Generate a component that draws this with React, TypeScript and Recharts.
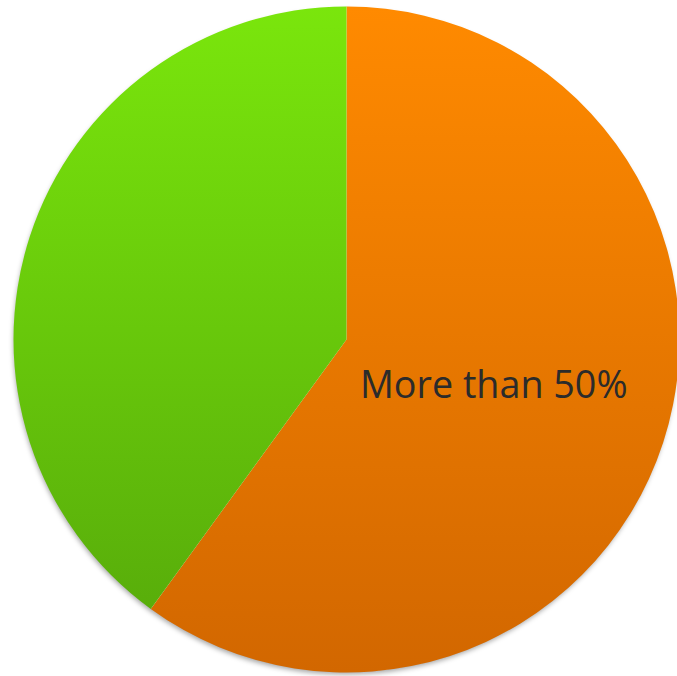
import React from 'react';
import { PieChart, Pie, Cell } from 'recharts';

const categories = ['More than 50%', 'Less than 50%'];
const values = [60, 40];
const labelled = ['More than 50%'];

const data = categories.map((name, i) => ({ name, value: values[i] }));
const backdrop = [{ name: 'all', value: 1 }];

const W = 677;
const H = 676;
const CX = 346.5;
const CY = 339.5;
const R = 333;

const fills = ['url(#gOrange)', 'url(#gGreen)'];

const renderLabel = (p: any) => {
  if (!labelled.includes(p.name)) return null;
  const RAD = Math.PI / 180;
  const r = p.outerRadius * 0.465;
  const x = p.cx + r * Math.cos(-p.midAngle * RAD);
  const y = p.cy + r * Math.sin(-p.midAngle * RAD) - 4;
  return (
    <text
      x={x}
      y={y}
      textAnchor="middle"
      dominantBaseline="central"
      fill="#2b2b2b"
      fontFamily="'Open Sans', sans-serif"
      fontSize={37.7}
    >
      {p.name}
    </text>
  );
};

export default function App() {
  return (
    <div style={{ position: 'absolute', left: 0, top: 0, width: W, height: H, background: '#fff' }}>
      <PieChart width={W} height={H} margin={{ top: 0, right: 0, bottom: 0, left: 0 }}>
        <defs>
          <linearGradient id="gOrange" gradientUnits="userSpaceOnUse" x1="0" y1={CY - R} x2="0" y2={CY + R}>
            <stop offset="0%" stopColor="#ff8a00" />
            <stop offset="100%" stopColor="#d26700" />
          </linearGradient>
          <linearGradient id="gGreen" gradientUnits="userSpaceOnUse" x1="0" y1={CY - R} x2="0" y2={CY + R}>
            <stop offset="0%" stopColor="#7ae60c" />
            <stop offset="100%" stopColor="#55a80a" />
          </linearGradient>
          <filter id="shadow" x="-10%" y="-10%" width="120%" height="120%">
            <feDropShadow dx="-1" dy="3" stdDeviation="2.5" floodColor="#000" floodOpacity="0.35" />
          </filter>
        </defs>
        <Pie
          data={backdrop}
          dataKey="value"
          cx={CX}
          cy={CY}
          outerRadius={R - 1}
          startAngle={90}
          endAngle={-270}
          stroke="none"
          fill="#ffffff"
          isAnimationActive={false}
          style={{ filter: 'url(#shadow)' }}
        >
          <Cell fill="#ffffff" stroke="none" filter="url(#shadow)" />
        </Pie>
        <Pie
          data={data}
          dataKey="value"
          nameKey="name"
          cx={CX}
          cy={CY}
          outerRadius={R}
          startAngle={90}
          endAngle={-270}
          stroke="none"
          labelLine={false}
          label={renderLabel}
          isAnimationActive={false}
        >
          {data.map((d, i) => (
            <Cell key={d.name} fill={fills[i]} stroke="none" />
          ))}
        </Pie>
      </PieChart>
    </div>
  );
}
